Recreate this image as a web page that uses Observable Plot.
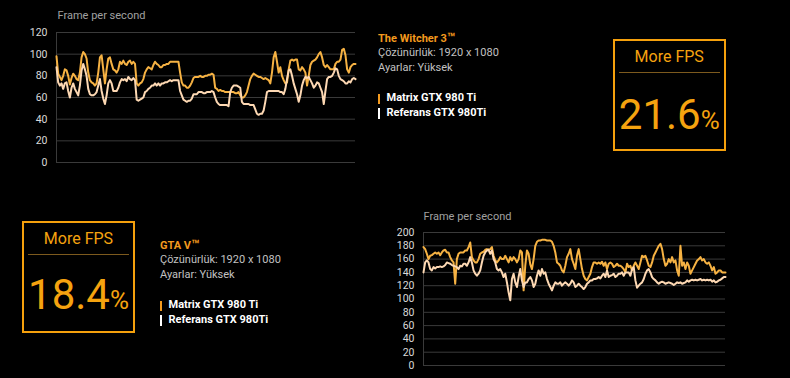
<!DOCTYPE html>
<html>
<head>
<meta charset="utf-8">
<script src="https://cdn.jsdelivr.net/npm/d3@7"></script>
<script src="https://cdn.jsdelivr.net/npm/@observablehq/plot@0.6"></script>
<style>
  html, body { margin:0; padding:0; background:#000; }
  body { width:790px; height:378px; overflow:hidden; position:relative; font-family:Roboto, "Open Sans", sans-serif; }
  .abs { position:absolute; white-space:nowrap; }
  .ctitle { font-size:11px; line-height:11px; color:#a0a0a0; }
  .gtitle { font-size:11px; line-height:11px; font-weight:bold; color:#f39a1e; }
  .gtitle .tm { font-size:13px; }
  .info { font-size:11px; line-height:11px; color:#c2c2c2; }
  .leg { font-size:11px; line-height:11px; font-weight:bold; color:#ffffff; }
  .bar { position:absolute; width:2px; height:10.5px; }
  .box { position:absolute; box-sizing:border-box; border:2px solid #f5a00c; }
  .box .hd { position:absolute; left:0; right:0; top:7.8px; text-align:center; font-size:16px; line-height:16px; color:#f5a30f; }
  .box .rl { position:absolute; left:4px; right:4px; top:30.5px; height:1.6px; background:#7d5a1e; }
  .box .big { position:absolute; left:0; right:0; text-align:center; font-size:42px; line-height:42px; color:#f5a30f; }
  .box .big span { font-size:26px; }
</style>
</head>
<body>
<script>
// ---------------- data ----------------
const yLabel = "Frame per second";
const moreLabel = "More FPS";
const seriesNames = ["Matrix GTX 980 Ti", "Referans GTX 980Ti"];
const witcherTitle = "The Witcher 3";
const gtaTitle = "GTA V";
const tradeMark = "™";
const resolutionText = "Çözünürlük: 1920 x 1080";
const settingsText = "Ayarlar: Yüksek";
const witcherGain = "21.6";
const gtaGain = "18.4";
const witcherTicks = [0, 20, 40, 60, 80, 100, 120];
const gtaTicks = [0, 20, 40, 60, 80, 100, 120, 140, 160, 180, 200];

const witcherMatrix = [
  98,82,79,76,80,86,85,80,72,78, 82,80,77,76,83,97,102,100,96,83,
  76,74,73,71,73,83,97,99,86,73, 86,96,97,91,86,85,83,86,93,91,
  94,91,90,93,94,91,93,91,73,71, 73,74,77,83,86,88,87,86,90,93,
  91,90,88,88,90,90,91,91,93,93, 93,93,93,93,83,74,71,71,69,69,
  71,74,78,79,79,79,80,
  79,79,80,80,81,81,82,81,69,68, 66,67,66,66,65,65,65,65,65,65,
  64,64,65,62,60,60,62,65,71,77, 80,82,81,80,79,79,78,77,78,77,
  76,73,83,97,102,93,83,88,80,76, 73,74,86,94,95,94,95,95,86,85,
  88,86,83,71,80,90,93,94,95,97, 100,102,97,90,88,90,88,86,86,86,
  91,93,93,95,104,105,99,86,83,88, 90,91,91
];
const witcherRef = [
  88,74,71,73,68,73,74,66,60,69, 73,68,65,62,71,85,91,86,80,68,
  63,62,62,63,65,71,77,66,59,54, 62,73,76,73,66,66,66,69,74,77,
  76,77,75,79,77,76,78,76,58,57, 58,59,60,65,66,68,69,71,71,73,
  71,73,71,73,73,74,74,75,76,75, 76,76,76,76,66,62,58,57,56,57,
  57,59,63,63,63,65,65,
  65,64,64,65,65,65,66,65,60,56, 54,53,53,53,53,53,52,65,69,71,
  71,71,70,69,56,54,54,54,54,53, 53,53,49,45,44,45,45,48,56,65,
  66,66,66,66,66,66,66,65,65,63, 68,77,85,86,80,73,68,63,56,62,
  71,76,79,78,79,76,73,69,71,74, 73,69,65,54,66,77,79,79,80,83,
  87,86,80,77,76,75,73,73,75,74, 77,78,77
];
const gtaMatrix = [
  178,175,168,160,165,166,168,170,168,170, 166,170,173,174,170,170,163,158,155,123,
  160,168,170,170,170,173,173,178,185,163, 158,155,155,160,168,170,171,174,175,174,
  175,178,165,158,155,158,163,160,160,165, 160,155,163,158,163,160,155,160,173,170,
  113,150,
  173,168,152,145,160,180,186,188,188,189, 189,189,188,188,188,186,180,170,155,153,
  150,143,140,150,163,168,175,160,153,145, 165,175,160,145,135,130,128,133,138,148,
  155,155,153,155,153,156,150,155,145,153, 155,153,148,150,153,150,150,148,145,140,
  153,148,150,143,150,155,150,145,155,165, 163,165,158,150,148,155,165,170,175,180,
  183,175,160,150,153,160,155,163,155,158, 143,135,180,150,155,145,155,150,138,143,
  148,153,158,160,163,158,160,155,153,155, 150,143,148,138,140,143,143,140,140,140
];
const gtaRef = [
  140,155,158,155,145,143,148,146,148,148, 149,148,149,151,155,154,153,151,150,149,
  148,145,150,149,153,153,150,155,163,155, 143,138,135,138,143,155,165,170,173,174,
  168,173,160,155,145,143,145,140,133,138, 125,110,98,130,138,125,118,133,145,128,
  118,125,
  125,130,133,128,118,123,135,143,135,145, 138,140,130,123,118,113,120,125,123,123,
  125,120,123,125,123,120,123,128,125,118, 120,123,120,118,115,118,123,125,128,128,
  130,130,131,133,131,135,138,133,143,133, 135,136,138,133,135,138,138,140,135,140,
  140,140,135,145,148,128,117,120,123,125, 130,138,143,145,140,133,130,128,125,123,
  125,126,125,123,124,125,124,123,121,123, 125,124,125,123,124,125,128,126,128,129,
  128,129,128,129,130,128,129,128,129,128, 129,126,128,125,126,128,129,131,133,133
];

// ---------------- styles ----------------
const COL_MATRIX = "#f6b243";
const COL_REF = "#fdd8b3";
const GRID = "#3a3a3a";

function makeChart(mat, ref, ticks, o) {
  const n = mat.length;
  const m = mat.map((v, i) => ({i, v}));
  const r = ref.map((v, i) => ({i, v}));
  const max = ticks[ticks.length - 1];
  return Plot.plot({
    width: o.width, height: o.height,
    marginLeft: o.ml, marginRight: o.mr, marginTop: o.mt, marginBottom: o.mb,
    style: {background: "transparent", color: "#dadada", fontFamily: "Roboto", fontSize: "10.5px", overflow: "visible"},
    x: {domain: [0, n - 1], axis: null},
    y: {domain: [0, max], axis: null},
    marks: [
      Plot.ruleY(ticks, {stroke: GRID, strokeWidth: 1}),
      Plot.ruleX([0], {y1: 0, y2: max, stroke: GRID, strokeWidth: 1}),
      Plot.axisY({ticks, tickSize: 0, tickPadding: 9, label: null, fontSize: 10.5}),
      Plot.line(m, {x: "i", y: "v", stroke: COL_MATRIX, strokeWidth: 2}),
      Plot.line(r, {x: "i", y: "v", stroke: COL_REF, strokeWidth: 2})
    ]
  });
}

function place(el, left, top) {
  const d = document.createElement("div");
  d.className = "abs";
  d.style.left = left + "px";
  d.style.top = top + "px";
  d.appendChild(el);
  document.body.appendChild(d);
  return d;
}
function text(cls, str, left, baseline) {
  const d = document.createElement("div");
  d.className = "abs " + cls;
  d.textContent = str;
  d.style.left = left + "px";
  d.style.top = (baseline - 0.842 * 11) + "px";
  document.body.appendChild(d);
  return d;
}
function bar(color, left, baseline) {
  const d = document.createElement("div");
  d.className = "bar";
  d.style.background = color;
  d.style.left = left + "px";
  d.style.top = (baseline - 8) + "px";
  document.body.appendChild(d);
}
function infoBlock(title, x, b) {
  const t = text("gtitle", title, x, b);
  const tm = document.createElement("span");
  tm.className = "tm"; tm.textContent = tradeMark;
  t.appendChild(tm);
  text("info", resolutionText, x, b + 14.5);
  text("info", settingsText, x, b + 29.5);
  bar("#f39a1e", x, b + 60);
  text("leg", seriesNames[0], x + 8.5, b + 60);
  bar("#ffffff", x, b + 74.5);
  text("leg", seriesNames[1], x + 8.5, b + 74.5);
}
function gainBox(value, left, top, w, h, bigTop) {
  const b = document.createElement("div");
  b.className = "box";
  b.style.left = left + "px"; b.style.top = top + "px";
  b.style.width = w + "px"; b.style.height = h + "px";
  const hd = document.createElement("div"); hd.className = "hd"; hd.textContent = moreLabel;
  const rl = document.createElement("div"); rl.className = "rl";
  const big = document.createElement("div"); big.className = "big";
  big.style.top = bigTop + "px";
  big.appendChild(document.createTextNode(value));
  const pc = document.createElement("span"); pc.textContent = "%";
  big.appendChild(pc);
  b.appendChild(hd); b.appendChild(rl); b.appendChild(big);
  document.body.appendChild(b);
}

// top chart (The Witcher 3)
place(makeChart(witcherMatrix, witcherRef, witcherTicks,
  {width: 370, height: 175, ml: 56, mr: 15, mt: 32, mb: 13}), 0, 0);
text("ctitle", yLabel, 57.5, 19);

// bottom chart (GTA V)
place(makeChart(gtaMatrix, gtaRef, gtaTicks,
  {width: 370, height: 158, ml: 53, mr: 15, mt: 12, mb: 13}), 370, 220);
text("ctitle", yLabel, 423.5, 220.7);

infoBlock(witcherTitle, 378, 41.7);
infoBlock(gtaTitle, 160, 248.7);

gainBox(witcherGain, 612.5, 39, 113.5, 112, 52.5);
gainBox(gtaGain, 22, 221, 113, 111.5, 51);
</script>
</body>
</html>
